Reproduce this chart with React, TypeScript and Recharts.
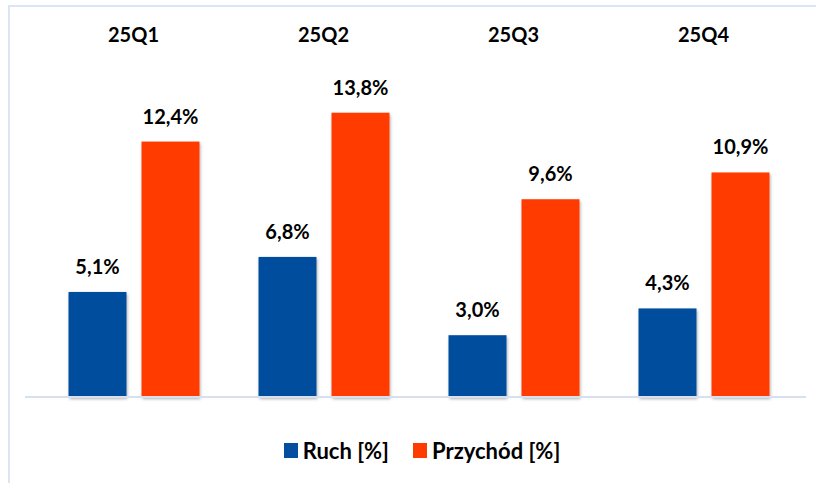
import { BarChart, Bar, XAxis, YAxis, LabelList, Legend, ReferenceLine } from "recharts";

const quarters = ["25Q1", "25Q2", "25Q3", "25Q4"];
const ruch = [5.1, 6.8, 3.0, 4.3];
const przychod = [12.4, 13.8, 9.6, 10.9];

const seriesNames = ["Ruch [%]", "Przychód [%]"];
const colors = ["#034e9e", "#ff3b00"];

const data = quarters.map((q, i) => ({ q, ruch: ruch[i], przychod: przychod[i] }));

const fmt = (v: any) => Number(v).toFixed(1).replace(".", ",") + "%";
const font = "Lato, 'Open Sans', sans-serif";

const ShadowRect = (props: any) => {
  const { x, y, width, height, fill } = props;
  return <rect x={x} y={y} width={width} height={height} fill={fill} filter="url(#barShadow)" />;
};

const LegendBox = () => (
  <div style={{ height: 86, paddingTop: 42, paddingLeft: 13, boxSizing: "border-box", display: "flex", justifyContent: "center", gap: 24, fontFamily: font, fontWeight: 700, fontSize: 22, color: "#000" }}>
    {seriesNames.map((n, i) => (
      <div key={n} style={{ display: "flex", alignItems: "center", height: 22 }}>
        <span style={{ display: "inline-block", width: 14, height: 15, background: colors[i], marginRight: 5 }} />
        <span>{n}</span>
      </div>
    ))}
  </div>
);

export default function App() {
  return (
    <div style={{ position: "absolute", left: 0, top: 0, width: 816, height: 483, background: "#fff" }}>
      <div style={{ position: "absolute", left: 8, top: 5, right: 0, bottom: 0, borderTop: "2px solid #dce5f4", borderLeft: "2px solid #dce5f4" }} />
      <BarChart width={816} height={483} data={data} margin={{ top: 0, right: 10, bottom: 0, left: 25 }} barSize={58} barGap={15}>
        <defs>
          <filter id="barShadow" x="-20%" y="-5%" width="140%" height="115%">
            <feDropShadow dx="1" dy="2" stdDeviation="1.5" floodColor="#000" floodOpacity="0.3" />
          </filter>
        </defs>
        <XAxis
          dataKey="q"
          orientation="top"
          height={88}
          axisLine={false}
          tickLine={false}
          tickSize={0}
          tickMargin={46}
          padding={{ left: 13.5, right: 7.5 }}
          tick={{ fill: "#000", fontSize: 20, fontWeight: 700, fontFamily: font }}
        />
        <YAxis hide domain={[0, 15]} />
        <ReferenceLine y={0} stroke="#d6e0f1" strokeWidth={2} />
        <Legend verticalAlign="bottom" content={<LegendBox />} />
        <Bar dataKey="ruch" name={seriesNames[0]} fill={colors[0]} shape={<ShadowRect />} isAnimationActive={false}>
          <LabelList dataKey="ruch" position="top" offset={18} formatter={fmt} style={{ fill: "#000", fontSize: 20, fontWeight: 700, fontFamily: font }} />
        </Bar>
        <Bar dataKey="przychod" name={seriesNames[1]} fill={colors[1]} shape={<ShadowRect />} isAnimationActive={false}>
          <LabelList dataKey="przychod" position="top" offset={18} formatter={fmt} style={{ fill: "#000", fontSize: 20, fontWeight: 700, fontFamily: font }} />
        </Bar>
      </BarChart>
    </div>
  );
}
